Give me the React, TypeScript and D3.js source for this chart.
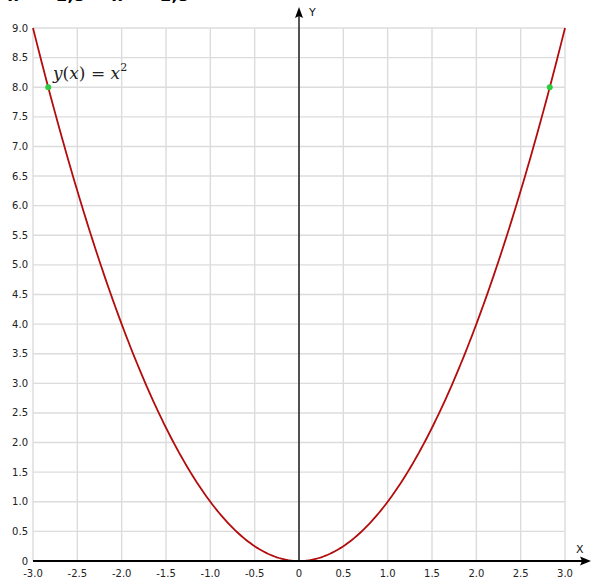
import React from "react";
import * as d3 from "d3";

const W = 594;
const H = 586;

// axis tick values
const xTicks = [-3.0, -2.5, -2.0, -1.5, -1.0, -0.5, 0, 0.5, 1.0, 1.5, 2.0, 2.5, 3.0];
const yTicks = [0, 0.5, 1.0, 1.5, 2.0, 2.5, 3.0, 3.5, 4.0, 4.5, 5.0, 5.5, 6.0, 6.5, 7.0, 7.5, 8.0, 8.5, 9.0];
const xDomain = [-3, 3];
const yDomain = [0, 9];
// marked points where y = 8
const markX = [-2.828, 2.828];
const markY = [8, 8];
// header labels (cut off at the top edge in the reference)
const headerLabels = ["x = −2,8", "x = −2,8"];
// sample positions of the plotted function y(x) = x^2
const sampleCount = 241;

const fmt = (v: number) => (v === 0 ? "0" : v.toFixed(1));

export default function App() {
  const x = d3.scaleLinear().domain(xDomain).range([33, 565]);
  const y = d3.scaleLinear().domain(yDomain).range([561, 28]);
  const xs = d3.range(sampleCount).map((i) => xDomain[0] + (i * (xDomain[1] - xDomain[0])) / (sampleCount - 1));
  const line = d3
    .line<number>()
    .x((d) => x(d))
    .y((d) => y(d * d));

  const tickFont = "DejaVu Sans, Verdana, sans-serif";
  return (
    <svg width={W} height={H} style={{ position: "absolute", left: 0, top: 0, background: "#fff" }}>
      {/* cut-off top text */}
      <g fontFamily={tickFont} fontWeight="bold" fontSize={16} fill="#000">
        <text x={8} y={1}>{headerLabels[0]}</text>
        <text x={112} y={1}>{headerLabels[1]}</text>
      </g>
      {/* grid */}
      <g stroke="#dcdcdc" strokeWidth={1.4}>
        {xTicks.map((t) => (
          <line key={"vx" + t} x1={x(t)} x2={x(t)} y1={y(9)} y2={y(0)} />
        ))}
        {yTicks.map((t) => (
          <line key={"hy" + t} x1={x(-3)} x2={x(3)} y1={y(t)} y2={y(t)} />
        ))}
      </g>
      {/* y tick labels */}
      <g fontFamily={tickFont} fontSize={10} fill="#222" textAnchor="end">
        {yTicks.map((t) => (
          <text key={"yl" + t} x={28} y={y(t)} dy="0.35em">
            {fmt(t)}
          </text>
        ))}
      </g>
      {/* x tick labels */}
      <g fontFamily={tickFont} fontSize={10} fill="#222" textAnchor="middle">
        {xTicks.map((t) => (
          <text key={"xl" + t} x={x(t)} y={577}>
            {fmt(t)}
          </text>
        ))}
      </g>
      {/* curve */}
      <path d={line(xs) || ""} fill="none" stroke="#b30c0c" strokeWidth={1.8} />
      {/* axes */}
      <line x1={x(-3)} x2={585} y1={y(0)} y2={y(0)} stroke="#000" strokeWidth={2.2} />
      <path d={`M591,${y(0)} L580,${y(0) - 4.5} L582,${y(0)} L580,${y(0) + 4.5} Z`} fill="#000" />
      <line x1={x(0)} x2={x(0)} y1={y(0)} y2={14} stroke="#000" strokeWidth={1.3} />
      <path d={`M${x(0)},7 L${x(0) - 4},18 L${x(0)},16 L${x(0) + 4},18 Z`} fill="#000" />
      <text x={576} y={553} fontFamily={tickFont} fontSize={11} fill="#111">X</text>
      <text x={309} y={16} fontFamily={tickFont} fontSize={11} fill="#111">Y</text>
      {/* marked points */}
      {markX.map((mx, i) => (
        <circle key={"m" + i} cx={x(mx)} cy={y(markY[i])} r={3} fill="#2ecc40" />
      ))}
      {/* formula label */}
      <text x={53} y={79} fontFamily="DejaVu Serif, Liberation Serif, serif" fontSize={17} fill="#222">
        <tspan fontStyle="italic">y</tspan>
        <tspan>(</tspan>
        <tspan fontStyle="italic">x</tspan>
        <tspan>) = </tspan>
        <tspan fontStyle="italic">x</tspan>
        <tspan fontSize={11} dy={-8}>2</tspan>
      </text>
    </svg>
  );
}
